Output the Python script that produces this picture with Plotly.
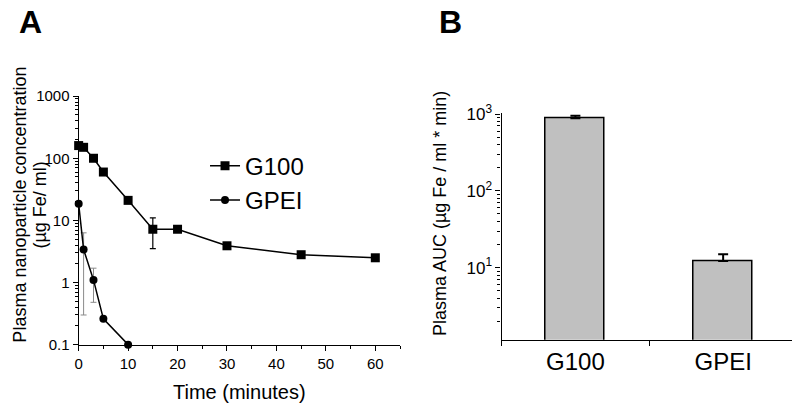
import plotly.graph_objects as go

# ---- Panel A data ----
time_g100 = [0, 1, 3, 5, 10, 15, 20, 30, 45, 60]
conc_g100 = [160, 150, 100, 60, 21, 7.2, 7.2, 3.9, 2.8, 2.5]
err_g100_up = [0, 0, 0, 0, 0, 3.8, 0, 0, 0, 0]
err_g100_dn = [0, 0, 0, 0, 0, 3.7, 0, 0, 0, 0]

time_gpei = [0, 1, 3, 5, 10]
conc_gpei = [18.5, 3.4, 1.1, 0.26, 0.1]
err_gpei_up = [0, 2.9, 0.6, 0, 0]
err_gpei_dn = [0, 3.1, 0.62, 0, 0]

# ---- Panel B data ----
auc_groups = ["G100", "GPEI"]
auc_values = [880, 12.2]
auc_err_up = [70, 2.8]

FONT = "Arial, Liberation Sans, sans-serif"

# page body has an 8px margin; the figure is sized to fit the window
OFF = 8
W, H = 800 - OFF, 405 - OFF


def px(x):
    return (x - OFF) / W


def py(y):
    return 1 - (y - OFF) / H


fig = go.Figure()

fig.add_trace(go.Scatter(
    x=time_g100, y=conc_g100, name="G100", mode="lines+markers",
    line=dict(color="black", width=1.5),
    marker=dict(symbol="square", size=9, color="black"),
    error_y=dict(type="data", symmetric=False, array=err_g100_up, arrayminus=err_g100_dn,
                 color="black", thickness=1.2, width=3),
    cliponaxis=False, xaxis="x", yaxis="y",
))
fig.add_trace(go.Scatter(
    x=time_gpei, y=conc_gpei, name="GPEI", mode="lines+markers",
    line=dict(color="black", width=1.5),
    marker=dict(symbol="circle", size=8, color="black"),
    error_y=dict(type="data", symmetric=False, array=err_gpei_up, arrayminus=err_gpei_dn,
                 color="#8a8a8a", thickness=1, width=3),
    cliponaxis=False, xaxis="x", yaxis="y",
))

fig.add_trace(go.Bar(
    x=auc_groups, y=auc_values, width=0.4, showlegend=False,
    marker=dict(color="#c0c0c0", line=dict(color="black", width=1.5)),
    error_y=dict(type="data", symmetric=False, array=auc_err_up, arrayminus=[0, 0],
                 color="black", thickness=2, width=5),
    xaxis="x2", yaxis="y2",
))

axis_common = dict(showline=True, linecolor="black", linewidth=1.2, ticks="outside",
                   tickcolor="black", tickwidth=1, showgrid=False, zeroline=False,
                   mirror=False)

fig.update_layout(
    width=W, height=H,
    margin=dict(l=0, r=0, t=0, b=0),
    paper_bgcolor="white", plot_bgcolor="white",
    font=dict(family=FONT, color="black"),
    xaxis=dict(domain=[px(75), px(398)], range=[0, 65], dtick=10, ticklen=5,
               tickfont=dict(size=15),
               minor=dict(ticks="outside", ticklen=3, dtick=5, tickcolor="black"),
               title=dict(text="Time (minutes)", font=dict(size=20), standoff=14),
               anchor="y", **axis_common),
    yaxis=dict(domain=[py(350), py(89)], type="log", range=[-1, 3],
               tickvals=[0.1, 1, 10, 100, 1000], ticktext=["0.1", "1", "10", "100", "1000"],
               ticklen=5, tickfont=dict(size=15),
               minor=dict(ticks="outside", ticklen=3, dtick="D1", tickcolor="black"),
               anchor="x", **axis_common),
    xaxis2=dict(domain=[px(500), px(797)], range=[-0.5, 1.5], type="category",
                tickson="boundaries", ticklen=5, tickfont=dict(size=24),
                anchor="y2", **axis_common),
    yaxis2=dict(domain=[py(345), py(107)], type="log", range=[0.06, 3.01],
                tickvals=[10, 100, 1000],
                ticktext=["10<sup>1</sup>", "10<sup>2</sup>", "10<sup>3</sup>"],
                ticklen=5, tickfont=dict(size=17),
                minor=dict(ticks="outside", ticklen=3, dtick="D1", tickcolor="black"),
                anchor="x2", **axis_common),
    legend=dict(x=px(202), y=py(139), xanchor="left", yanchor="top",
                font=dict(size=24), bgcolor="rgba(0,0,0,0)", tracegroupgap=0,
                itemwidth=30),
    showlegend=True,
    bargap=0,
)

annos = [
    dict(text="<b>A</b>", x=px(27), y=py(11), yanchor="middle", font=dict(size=32)),
    dict(text="<b>B</b>", x=px(449), y=py(11), yanchor="middle", font=dict(size=32)),
    dict(text="Plasma nanoparticle concentration", x=px(16), y=py(203),
         yanchor="middle", textangle=-90, font=dict(size=18)),
    dict(text="(µg Fe/ ml)", x=px(36), y=py(203), yanchor="middle",
         textangle=-90, font=dict(size=18)),
    dict(text="Plasma AUC (µg Fe / ml * min)", x=px(438), y=py(212),
         yanchor="middle", textangle=-90, font=dict(size=18)),
]
for a in annos:
    fig.add_annotation(xref="paper", yref="paper", showarrow=False,
                       xanchor="center", **a)

fig.write_html("out.html")
